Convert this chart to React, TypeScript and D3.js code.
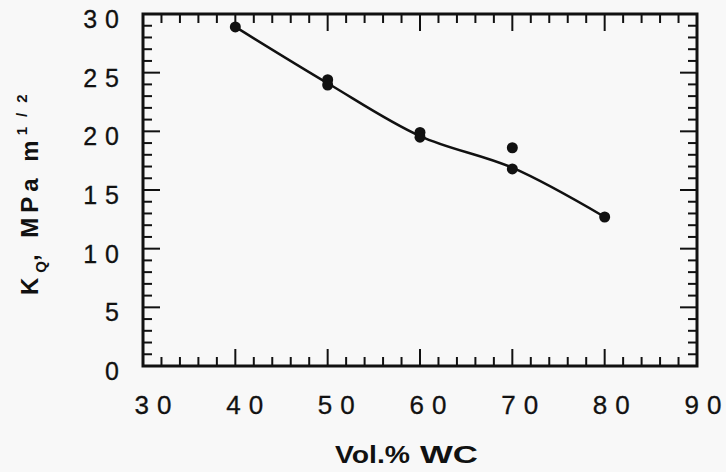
import React from "react";
import * as d3 from "d3";

// measured points (two specimens at some compositions)
const volWC = [40, 50, 50, 60, 60, 70, 70, 80];
const kq = [28.9, 24.4, 23.95, 19.9, 19.5, 18.6, 16.8, 12.7];

// hand-drawn trend curve
const fitX = [40, 50, 60, 70, 80];
const fitY = [28.9, 24.1, 19.6, 16.9, 12.7];

const xTicks = [30, 40, 50, 60, 70, 80, 90];
const yTicks = [0, 5, 10, 15, 20, 25, 30];

const W = 726;
const H = 472;
const left = 143;
const right = 697;
const top = 14;
const bottom = 366;

// digits in the print are spread apart; space them without trailing gap
const spaced = (v: number, gap: number) => {
  const s = String(v);
  if (s.length < 2) return s;
  return (
    <>
      {s[0]}
      <tspan dx={gap}>{s.slice(1)}</tspan>
    </>
  );
};

const App = () => {
  const x = d3.scaleLinear().domain([30, 90]).range([left, right]);
  const y = d3.scaleLinear().domain([0, 30]).range([bottom, top]);
  // the printed labels sit a little right of their ticks
  const xLab = d3.scaleLinear().domain([30, 90]).range([153, 703]);

  const line = d3
    .line<number>()
    .x((d, i) => x(fitX[i]))
    .y((d) => y(d))
    .curve(d3.curveCatmullRom.alpha(0.5));

  const xMinor = d3.range(30, 90.01, 2);
  const yMinor = d3.range(0, 30.01, 1);
  const major = 17;
  const minor = 9;
  const gap = 8;

  return (
    <svg
      width={W}
      height={H}
      style={{ position: "absolute", left: 0, top: 0, display: "block", background: "#f8f8f8" }}
      fontFamily="'Liberation Sans', Arial, Helvetica, sans-serif"
    >
      <rect width={W} height={H} fill="#f8f8f8" />

      {/* ticks on all four sides, pointing in */}
      <g stroke="#111" strokeWidth={2}>
        {xMinor.map((v) => {
          const len = v % 10 === 0 ? major : minor;
          return (
            <g key={"x" + v}>
              <line x1={x(v)} x2={x(v)} y1={bottom} y2={bottom - len} />
              <line x1={x(v)} x2={x(v)} y1={top} y2={top + len} />
            </g>
          );
        })}
        {yMinor.map((v) => {
          const len = v % 5 === 0 ? major : minor;
          return (
            <g key={"y" + v}>
              <line x1={left} x2={left + len} y1={y(v)} y2={y(v)} />
              <line x1={right} x2={right - len} y1={y(v)} y2={y(v)} />
            </g>
          );
        })}
      </g>

      <rect
        x={left}
        y={top}
        width={right - left}
        height={bottom - top}
        fill="none"
        stroke="#111"
        strokeWidth={3}
      />

      {/* tick labels */}
      <g fill="#111" stroke="#111" strokeWidth={0.3} fontSize={26}>
        {xTicks.map((v) => (
          <text key={"xl" + v} x={xLab(v)} y={414} textAnchor="middle">
            {spaced(v, gap)}
          </text>
        ))}
      </g>
      <g fill="#111" stroke="#111" strokeWidth={0.3} fontSize={25}>
        {yTicks.map((v) => (
          <text key={"yl" + v} x={119} y={y(v) + 14} textAnchor="end">
            {spaced(v, gap)}
          </text>
        ))}
      </g>

      {/* trend curve */}
      <path d={line(fitY) || ""} fill="none" stroke="#111" strokeWidth={2.5} />

      {/* data points */}
      {volWC.map((v, i) => (
        <circle key={"p" + i} cx={x(v)} cy={y(kq[i])} r={5.5} fill="#111" />
      ))}

      {/* axis titles */}
      <g fontSize={23} fontWeight="bold" fill="#111">
        <text x={335} y={463} textLength={75} lengthAdjust="spacingAndGlyphs">
          Vol.%
        </text>
        <text x={420} y={463} textLength={58} lengthAdjust="spacingAndGlyphs">
          WC
        </text>
      </g>

      <text
        transform="translate(38,295) rotate(-90)"
        fontSize={24}
        fontWeight="bold"
        fill="#111"
        letterSpacing={5}
      >
        K
        <tspan fontSize={15} dy={8} letterSpacing={0}>Q</tspan>
        <tspan dy={-8}>, MPa m</tspan>
        <tspan fontSize={15} dy={-11} letterSpacing={10}>1/2</tspan>
      </text>
    </svg>
  );
};

export default App;
